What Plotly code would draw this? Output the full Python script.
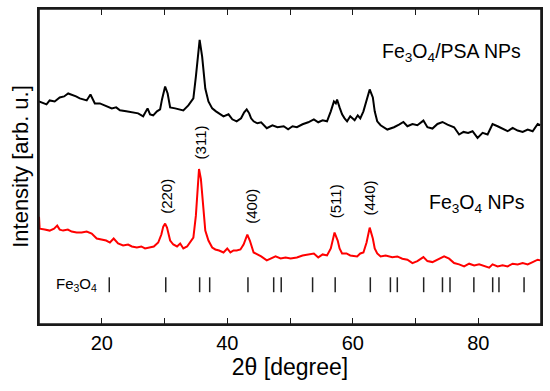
import plotly.graph_objects as go

# ---- data (2theta in degrees, intensity in arb. units) ----
psa_2theta = [10.0, 11.2, 11.7, 12.5, 13.3, 14.0, 14.65, 15.2, 15.9, 16.5, 17.2, 17.6, 18.2, 18.6, 18.9,
              19.7, 20.8, 21.6, 22.3, 22.9, 23.9, 25.0, 25.8, 26.6, 27.3, 27.7, 28.2, 28.8, 29.3, 29.6,
              30.1, 30.5, 30.9, 31.7, 32.5, 33.0, 33.8, 34.2, 34.6, 35.0, 35.6, 36.0, 36.5, 37.0, 37.6,
              38.2, 38.9, 39.4, 40.2, 40.8, 41.5, 42.2, 42.7, 43.1, 43.5, 43.8, 44.2, 44.8, 45.4, 46.3,
              47.2, 48.0, 49.0, 49.7, 50.4, 51.1, 52.0, 52.9, 53.8, 54.5, 55.2, 55.9, 56.5, 57.0, 57.3,
              57.5, 57.9, 58.3, 58.7, 59.1, 59.6, 60.3, 60.8, 61.2, 61.7, 62.2, 62.7, 63.2, 63.5, 63.9,
              64.44, 65.51, 66.57, 67.37, 68.07, 68.71, 69.51, 70.30, 71.26, 71.90, 72.70, 73.50, 74.30,
              75.10, 76.15, 76.95, 77.65, 78.39, 79.09, 79.89, 80.69, 81.49, 82.28, 83.08, 83.88, 84.68,
              85.48, 86.28, 87.08, 87.88, 88.67, 89.47, 89.89]
psa_intensity = [224, 221, 225, 224, 228, 229, 232, 231, 229, 227, 226, 225, 231, 226, 222,
                 222, 219, 217, 218, 215, 214, 213, 212, 209, 217, 211, 210, 214, 216, 226,
                 239, 232, 218, 217, 216, 215, 220, 224, 227, 249, 286, 269, 237, 224, 217,
                 214, 211, 209, 211, 206, 204, 207, 213, 216, 212, 207, 204, 202, 203, 197,
                 200, 198, 199, 196, 199, 198, 201, 203, 206, 203, 205, 204, 214, 224, 222,
                 226, 218, 211, 207, 204, 209, 205, 210, 207, 214, 226, 236, 228, 214, 204,
                 200, 195.7, 198, 200.7, 203.3, 199, 201.3, 200, 204.7, 198, 196.7, 201.3, 203.3,
                 200.7, 198, 190.7, 193.3, 192.3, 194, 187.3, 192.3, 190.7, 201.3, 199, 196.7, 194,
                 197.3, 194.7, 193.3, 195.7, 194, 201.3, 200]

np_2theta = [10.0, 10.1, 10.9, 11.7, 12.4, 12.9, 13.3, 13.85, 14.6, 15.2, 16.0, 16.8, 17.6, 18.4, 19.2,
             20.0, 20.7, 21.3, 21.9, 22.6, 23.4, 24.2, 24.8, 25.6, 26.3, 26.9, 27.7, 28.3, 29.0, 29.5,
             29.8, 30.1, 30.4, 30.9, 31.4, 32.0, 32.5, 33.0, 33.6, 34.1, 34.6, 35.0, 35.3, 35.5, 35.8,
             36.2, 36.5, 37.0, 37.6, 38.1, 38.7, 39.4, 40.0, 40.5, 41.0, 41.5, 42.1, 42.6, 43.2, 43.6,
             43.9, 44.2, 44.8, 45.4, 46.3, 47.0, 47.7, 48.5, 49.3, 50.1, 51.1, 52.0, 52.9, 53.8, 54.5,
             55.2, 55.9, 56.5, 57.1, 57.6, 57.9, 58.3, 59.0, 59.6, 60.7, 61.2, 61.7, 62.2, 62.7, 63.2,
             63.5, 63.9, 64.44, 65.24, 66.30, 67.10, 67.90, 68.71, 69.51, 70.30, 71.26, 71.90, 72.70,
             73.61, 74.56, 75.36, 76.15, 76.95, 77.75, 78.55, 79.35, 80.14, 80.94, 81.74, 82.28, 83.08,
             83.88, 84.68, 85.48, 86.28, 87.08, 87.88, 88.67, 89.47, 89.89]
np_intensity = [108, 96, 95, 94, 96, 99, 95, 94, 95, 93, 92, 92, 93, 91, 86,
                85, 84, 82, 86, 81, 79, 80, 78, 77, 78, 76, 77, 78, 82, 90,
                98, 101, 97, 84, 80, 78, 81, 76, 78, 82, 87, 109, 144, 156, 146,
                119, 94, 84, 77, 75, 74, 72, 76, 72, 74, 74, 75, 80, 90, 84,
                77, 72, 70, 68, 64, 66, 68, 66, 67, 66, 67, 69, 70, 71, 67,
                70, 69, 76, 92, 84, 76, 71, 71, 69, 68, 71, 72, 82, 97, 86,
                76, 71, 68, 69, 67.3, 68, 65.7, 64.7, 61.3, 63.3, 67.3, 63.3, 62.3,
                64.7, 68, 65.7, 61.3, 60, 58, 60.7, 59, 60, 58, 56.7, 60, 58,
                59, 58, 60.7, 60, 61.3, 60, 62.3, 64.7, 64]

ref_positions = [21.2, 30.2, 35.6, 37.2, 43.3, 47.4, 48.6, 53.6, 57.2, 62.8, 66.0, 67.1,
                 71.3, 74.3, 75.5, 79.3, 82.3, 83.3, 87.3]
ref_low, ref_high = 32, 47

hkl_labels = ["(220)", "(311)", "(400)", "(511)", "(440)"]
hkl_x = [30.4, 35.7, 43.95, 57.25, 62.7]
hkl_y = [128, 183, 118, 124, 127]

FONT = "Liberation Sans, Arial, sans-serif"

fig = go.Figure()
fig.add_trace(go.Scatter(x=psa_2theta, y=psa_intensity, mode="lines",
                         line=dict(color="#000000", width=2), showlegend=False))
fig.add_trace(go.Scatter(x=np_2theta, y=np_intensity, mode="lines",
                         line=dict(color="#ff0000", width=2), showlegend=False))

sx, sy = [], []
for p in ref_positions:
    sx += [p, p, None]
    sy += [ref_low, ref_high, None]
fig.add_trace(go.Scatter(x=sx, y=sy, mode="lines",
                         line=dict(color="#222222", width=1.5), showlegend=False))

for t, x, y in zip(hkl_labels, hkl_x, hkl_y):
    fig.add_annotation(x=x, y=y, text=t, textangle=-90, showarrow=False,
                       font=dict(size=15, color="#000000", family=FONT))

fig.add_annotation(x=79.8, y=121, text="Fe<sub>3</sub>O<sub>4</sub> NPs", showarrow=False,
                   font=dict(size=19.5, color="#000000", family=FONT))
fig.add_annotation(x=75.8, y=273, text="Fe<sub>3</sub>O<sub>4</sub>/PSA NPs", showarrow=False,
                   font=dict(size=19.5, color="#000000", family=FONT))
fig.add_annotation(x=15.9, y=40, text="Fe<sub>3</sub>O<sub>4</sub>", showarrow=False,
                   font=dict(size=15, color="#000000", family=FONT))

# plot frame
fig.add_shape(type="rect", xref="paper", yref="paper", x0=0, x1=1, y0=0, y1=1,
              line=dict(color="#1a1a1a", width=1.6), layer="above")

fig.update_layout(
    width=550, height=391,
    margin=dict(l=39, r=9, t=7, b=67),
    paper_bgcolor="white", plot_bgcolor="white",
    font=dict(family=FONT, color="#000000"),
    xaxis=dict(range=[10, 90], dtick=20, tick0=0, ticks="inside", ticklen=6, tickwidth=1.4,
               tickcolor="#1a1a1a", showline=True, linecolor="#1a1a1a", linewidth=1.6,
               mirror="allticks", showgrid=False, zeroline=False,
               tickfont=dict(size=20, family=FONT, color="#000000"),
               minor=dict(dtick=10, ticks="inside", ticklen=6, tickwidth=1.4, tickcolor="#1a1a1a"),
               title=dict(text="2θ [degree]", font=dict(size=23, family=FONT), standoff=6)),
    yaxis=dict(range=[0, 317], showticklabels=False, ticks="", showline=True,
               linecolor="#1a1a1a", linewidth=1.6, mirror=True, showgrid=False, zeroline=False,
               title=dict(text="Intensity [arb. u.]", font=dict(size=22, family=FONT), standoff=3)),
)

fig.write_html("out.html", config={"displayModeBar": False},
               post_script="document.body.style.margin='0';document.body.style.padding='0';")
